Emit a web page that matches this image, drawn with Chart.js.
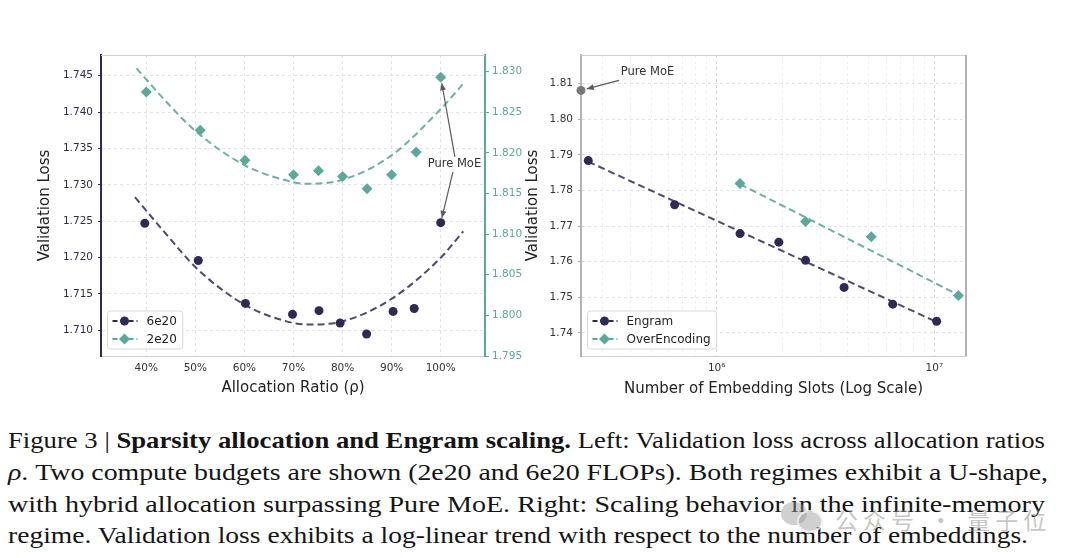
<!DOCTYPE html>
<html lang="en">
<head>
  <meta charset="UTF-8">
  <title>Sparsity allocation and Engram scaling</title>
  <script src="https://cdn.jsdelivr.net/npm/chart.js"></script>
  <style>
    body {
      margin: 0;
      background: #fff;
      width: 1080px;
      height: 558px;
      position: relative;
      overflow: hidden;
    }
    #leftChart { position: absolute; left: 0; top: 0; }
    #rightChart { position: absolute; left: 520px; top: 0; }
    .cap {
      position: absolute;
      left: 8px;
      font-family: "Liberation Serif", serif;
      font-size: 24px;
      line-height: 24px;
      color: #141414;
      white-space: nowrap;
      transform-origin: 0 0;
    }
    .wm {
      position: absolute;
      left: 835px;
      top: 502px;
      font-family: "Noto Sans CJK SC", sans-serif;
      font-size: 23px;
      letter-spacing: 5px;
      color: rgba(140, 140, 140, 0.5);
      white-space: nowrap;
    }
    .bubble {
      position: absolute;
      border-radius: 50%;
      background: rgba(150, 150, 150, 0.45);
    }
  </style>
</head>
<body>
  <canvas id="leftChart" width="540" height="410"></canvas>
  <canvas id="rightChart" width="560" height="410"></canvas>

  <div class="cap" style="top:428px" data-w="1037">Figure 3 | <b>Sparsity allocation and Engram scaling.</b> Left: Validation loss across allocation ratios</div>
  <div class="cap" style="top:460px" data-w="1040"><i>ρ</i>. Two compute budgets are shown (2e20 and 6e20 FLOPs). Both regimes exhibit a U-shape,</div>
  <div class="cap" style="top:492px" data-w="1037">with hybrid allocation surpassing Pure MoE. Right: Scaling behavior in the infinite-memory</div>
  <div class="cap" style="top:523px" data-w="1020">regime. Validation loss exhibits a log-linear trend with respect to the number of embeddings.</div>

  <div class="bubble" style="left:781px;top:502px;width:26px;height:23px"></div>
  <div class="bubble" style="left:797px;top:510px;width:22px;height:19px;border:2px solid rgba(255,255,255,0.7)"></div>
  <div class="wm">公众号 · 量子位</div>

  <script>
    // ---- left panel: allocation ratio sweep ----
    const ratio6e20 = [39.7, 50.6, 60.2, 69.8, 75.2, 79.5, 84.9, 90.3, 94.6, 100];
    const loss6e20 = [1.7247, 1.7196, 1.7137, 1.7122, 1.7127, 1.7110, 1.7095, 1.7126, 1.7130, 1.7248];
    const fitRatio6e20 = [37.7, 44.2, 50.3, 60.1, 70.0, 73.0, 79.8, 89.7, 99.9, 104.6];
    const fitLoss6e20 = [1.7283, 1.7231, 1.7185, 1.7135, 1.7110, 1.7108, 1.7112, 1.7142, 1.7199, 1.7236];

    const ratio2e20 = [40, 51, 60.1, 70, 75.1, 80, 85, 90, 95, 100];
    const loss2e20 = [1.8275, 1.8228, 1.8191, 1.8173, 1.8178, 1.8171, 1.8156, 1.8173, 1.8201, 1.8293];
    const fitRatio2e20 = [38, 45, 50, 60, 70, 72.5, 80, 90, 100, 105];
    const fitLoss2e20 = [1.8304, 1.8257, 1.8227, 1.8185, 1.8164, 1.8162, 1.8167, 1.8197, 1.8254, 1.8288];

    const ratioTicks = [40, 50, 60, 70, 80, 90, 100];
    const loss6e20Ticks = [1.710, 1.715, 1.720, 1.725, 1.730, 1.735, 1.740, 1.745];
    const loss2e20Ticks = [1.795, 1.800, 1.805, 1.810, 1.815, 1.820, 1.825, 1.830];

    // ---- right panel: embedding slots (log scale) ----
    const engramSlots = [2.57e5, 6.41e5, 1.28e6, 1.93e6, 2.56e6, 3.85e6, 6.44e6, 1.025e7];
    const engramLoss = [1.7884, 1.7760, 1.7679, 1.7655, 1.7604, 1.7528, 1.7481, 1.7433];
    const engramFitSlots = [2.57e5, 1.025e7];
    const engramFitLoss = [1.7881, 1.7431];

    const overEncSlots = [1.28e6, 2.56e6, 5.13e6, 1.29e7];
    const overEncLoss = [1.7820, 1.7713, 1.7670, 1.7505];
    const overEncFitSlots = [1.28e6, 1.29e7];
    const overEncFitLoss = [1.7818, 1.7507];

    const pureMoeSlots = [2.38e5];
    const pureMoeLoss = [1.8081];

    const slotTicks = [3e5, 4e5, 5e5, 6e5, 7e5, 8e5, 9e5, 1e6, 2e6, 3e6, 4e6, 5e6, 6e6, 7e6, 8e6, 9e6, 1e7];
    const slotTickLabels = { 1000000: '10⁶', 10000000: '10⁷' };
    const engramLossTicks = [1.74, 1.75, 1.76, 1.77, 1.78, 1.79, 1.80, 1.81];

    const NAVY = '#2e2a56';
    const TEAL = '#5ba99a';
    const GRID = '#dcdcdc';

    Chart.defaults.font.family = '"DejaVu Sans", sans-serif';
    Chart.defaults.color = '#333';

    const pts = (xs, ys) => xs.map((x, i) => ({ x: x, y: ys[i] }));
    const setTicks = list => scale => { scale.ticks = list.map(v => ({ value: v })); };

    // legend box inside the plot, dashed line + marker samples
    const boxLegend = {
      id: 'boxLegend',
      afterDraw(chart) {
        const { ctx, chartArea } = chart;
        const items = chart.data.datasets.filter(d => d.inLegend);
        ctx.save();
        ctx.font = '12px "DejaVu Sans"';
        const textW = Math.max(...items.map(d => ctx.measureText(d.label).width));
        const h = 38, w = 39 + textW + 6;
        const x0 = chartArea.left + 6.5, y0 = chartArea.bottom - 7 - h;
        ctx.fillStyle = 'rgba(255,255,255,0.85)';
        ctx.strokeStyle = '#d8d8d8';
        ctx.lineWidth = 1;
        ctx.beginPath();
        ctx.roundRect(x0, y0, w, h, 3);
        ctx.fill();
        ctx.stroke();
        items.forEach((d, i) => {
          const y = y0 + 10 + i * 18;
          ctx.strokeStyle = d.backgroundColor;
          ctx.lineWidth = 2;
          ctx.setLineDash([5, 3]);
          ctx.beginPath();
          ctx.moveTo(x0 + 5, y);
          ctx.lineTo(x0 + 30, y);
          ctx.stroke();
          ctx.setLineDash([]);
          ctx.fillStyle = d.backgroundColor;
          const cx = x0 + 17;
          ctx.beginPath();
          if (d.pointStyle === 'rectRot') {
            const r = 5.5;
            ctx.moveTo(cx, y - r); ctx.lineTo(cx + r, y); ctx.lineTo(cx, y + r); ctx.lineTo(cx - r, y);
            ctx.closePath();
          } else {
            ctx.arc(cx, y, 4.5, 0, Math.PI * 2);
          }
          ctx.fill();
          ctx.fillStyle = '#222';
          ctx.textBaseline = 'middle';
          ctx.fillText(d.label, x0 + 39, y + 0.5);
        });
        ctx.restore();
      }
    };

    // extra spines that the axes do not draw
    const frame = {
      id: 'frame',
      beforeDatasetsDraw(chart, args, opts) {
        const { ctx, chartArea: a } = chart;
        ctx.save();
        if (opts.top) {
          ctx.strokeStyle = opts.top; ctx.lineWidth = 1;
          ctx.beginPath(); ctx.moveTo(a.left, a.top + 0.5); ctx.lineTo(a.right, a.top + 0.5); ctx.stroke();
        }
        if (opts.right) {
          ctx.strokeStyle = opts.right; ctx.lineWidth = 1.5;
          ctx.beginPath(); ctx.moveTo(a.right, a.top); ctx.lineTo(a.right, a.bottom); ctx.stroke();
        }
        ctx.restore();
      }
    };

    // "Pure MoE" text with arrows pointing at data points
    const arrowNotes = {
      id: 'arrowNotes',
      afterDatasetsDraw(chart, args, opts) {
        if (!opts.notes) return;
        const { ctx, scales } = chart;
        opts.notes.forEach(n => {
          const tx = scales.x.getPixelForValue(n.x);
          const ty = scales[n.yAxis].getPixelForValue(n.y);
          ctx.save();
          ctx.font = '11.5px "DejaVu Sans"';
          ctx.fillStyle = '#333';
          ctx.textAlign = 'center';
          ctx.textBaseline = 'middle';
          ctx.fillText(n.text, tx, ty);
          n.arrows.forEach(a => {
            const el = chart.getDatasetMeta(a.dataset).data[a.index];
            const x0 = tx + a.dx, y0 = ty + a.dy;
            const ang = Math.atan2(el.y - y0, el.x - x0);
            const x1 = el.x - Math.cos(ang) * a.gap, y1 = el.y - Math.sin(ang) * a.gap;
            ctx.strokeStyle = '#5a5a5a';
            ctx.fillStyle = '#5a5a5a';
            ctx.lineWidth = 1.2;
            ctx.beginPath(); ctx.moveTo(x0, y0); ctx.lineTo(x1, y1); ctx.stroke();
            const L = 7, W = 3;
            const c = Math.cos(ang), s = Math.sin(ang);
            ctx.beginPath();
            ctx.moveTo(x1, y1);
            ctx.lineTo(x1 - L * c + W * s, y1 - L * s - W * c);
            ctx.lineTo(x1 - L * c - W * s, y1 - L * s + W * c);
            ctx.closePath();
            ctx.fill();
          });
          ctx.restore();
        });
      }
    };

    const tickFont = { size: 10.5 };
    const titleFont = { size: 15 };

    new Chart(document.getElementById('leftChart'), {
      type: 'scatter',
      data: {
        datasets: [
          { label: '6e20', data: pts(ratio6e20, loss6e20), yAxisID: 'y', inLegend: true,
            pointStyle: 'circle', pointRadius: 4.5, backgroundColor: NAVY, borderColor: NAVY, borderWidth: 0 },
          { label: '2e20', data: pts(ratio2e20, loss2e20), yAxisID: 'y2', inLegend: true,
            pointStyle: 'rectRot', pointRadius: 5.5, backgroundColor: TEAL, borderColor: TEAL, borderWidth: 0 },
          { label: '6e20 fit', data: pts(fitRatio6e20, fitLoss6e20), yAxisID: 'y', showLine: true,
            pointRadius: 0, borderColor: 'rgba(46,42,86,0.85)', borderWidth: 2, borderDash: [7, 4],
            cubicInterpolationMode: 'monotone' },
          { label: '2e20 fit', data: pts(fitRatio2e20, fitLoss2e20), yAxisID: 'y2', showLine: true,
            pointRadius: 0, borderColor: 'rgba(91,169,154,0.9)', borderWidth: 2, borderDash: [7, 4],
            cubicInterpolationMode: 'monotone' }
        ]
      },
      options: {
        responsive: false,
        animation: false,
        layout: { padding: { left: 32, top: 55, right: 0, bottom: 0 } },
        plugins: {
          legend: { display: false },
          tooltip: { enabled: false },
          frame: { top: '#cfcfcf' },
          arrowNotes: {
            notes: [{
              text: 'Pure MoE', x: 102.8, y: 1.73287, yAxis: 'y',
              arrows: [
                { dataset: 1, index: 9, dx: 0.5, dy: -7, gap: 6 },
                { dataset: 0, index: 9, dx: -1.5, dy: 8, gap: 5 }
              ]
            }]
          }
        },
        scales: {
          x: {
            type: 'linear', min: 30.77, max: 109.03,
            afterBuildTicks: setTicks(ratioTicks),
            afterFit: s => { s.height = 54; },
            ticks: { callback: v => v + '%', font: tickFont, color: '#333', padding: 6, autoSkip: false, maxRotation: 0 },
            grid: { color: GRID, lineWidth: 0.8, drawTicks: false },
            border: { color: '#cfcfcf', width: 1, dash: [3, 3] },
            title: { display: true, text: 'Allocation Ratio (ρ)', font: titleFont, color: '#222', padding: { top: 0, bottom: 13 } }
          },
          y: {
            type: 'linear', position: 'left', min: 1.70647, max: 1.74784,
            afterBuildTicks: setTicks(loss6e20Ticks),
            afterFit: s => { s.width = 69; },
            ticks: { callback: v => v.toFixed(3), font: tickFont, color: NAVY, padding: 5 },
            grid: { color: GRID, lineWidth: 0.8, tickLength: 3, tickColor: NAVY, tickWidth: 1 },
            border: { color: NAVY, width: 2, dash: [3, 3] },
            title: { display: true, text: 'Validation Loss', font: titleFont, color: '#222', padding: { top: 4, bottom: 4 } }
          },
          y2: {
            type: 'linear', position: 'right', min: 1.795, max: 1.83205,
            afterBuildTicks: setTicks(loss2e20Ticks),
            afterFit: s => { s.width = 55; },
            ticks: { callback: v => v.toFixed(3), font: tickFont, color: TEAL, padding: 3 },
            grid: { drawOnChartArea: false, tickLength: 4, tickColor: TEAL, tickWidth: 1 },
            border: { color: TEAL, width: 2 }
          }
        }
      },
      plugins: [boxLegend, frame, arrowNotes]
    });

    new Chart(document.getElementById('rightChart'), {
      type: 'scatter',
      data: {
        datasets: [
          { label: 'Engram', data: pts(engramSlots, engramLoss), inLegend: true,
            pointStyle: 'circle', pointRadius: 4.5, backgroundColor: NAVY, borderColor: NAVY, borderWidth: 0 },
          { label: 'OverEncoding', data: pts(overEncSlots, overEncLoss), inLegend: true,
            pointStyle: 'rectRot', pointRadius: 5.5, backgroundColor: TEAL, borderColor: TEAL, borderWidth: 0 },
          { label: 'Pure MoE', data: pts(pureMoeSlots, pureMoeLoss), clip: false,
            pointStyle: 'circle', pointRadius: 4.5, backgroundColor: '#777', borderColor: '#777', borderWidth: 0 },
          { label: 'Engram fit', data: pts(engramFitSlots, engramFitLoss), showLine: true,
            pointRadius: 0, borderColor: 'rgba(46,42,86,0.85)', borderWidth: 2, borderDash: [7, 4] },
          { label: 'OverEncoding fit', data: pts(overEncFitSlots, overEncFitLoss), showLine: true,
            pointRadius: 0, borderColor: 'rgba(91,169,154,0.9)', borderWidth: 2, borderDash: [7, 4] }
        ]
      },
      options: {
        responsive: false,
        animation: false,
        layout: { padding: { left: 0, top: 55, right: 114, bottom: 0 } },
        plugins: {
          legend: { display: false },
          tooltip: { enabled: false },
          frame: { top: '#cfcfcf', right: '#9a9a9a' },
          arrowNotes: {
            notes: [{
              text: 'Pure MoE', x: 4.81e5, y: 1.8133, yAxis: 'y',
              arrows: [{ dataset: 2, index: 0, dx: -28.5, dy: 8.5, gap: 6 }]
            }]
          }
        },
        scales: {
          x: {
            type: 'logarithmic', min: 2.38e5, max: 1.398e7,
            afterBuildTicks: setTicks(slotTicks),
            afterFit: s => { s.height = 54; },
            ticks: { callback: v => slotTickLabels[v] || '', font: tickFont, color: '#333', padding: 6, autoSkip: false, maxRotation: 0 },
            grid: {
              color: c => (c.tick && slotTickLabels[c.tick.value]) ? '#cfcfcf' : '#ececec',
              lineWidth: 0.8, drawTicks: false
            },
            border: { color: '#cfcfcf', width: 1, dash: [3, 3] },
            title: { display: true, text: 'Number of Embedding Slots (Log Scale)', font: titleFont, color: '#222', padding: { top: 0, bottom: 12 } }
          },
          y: {
            type: 'linear', position: 'left', min: 1.73354, max: 1.81805,
            afterBuildTicks: setTicks(engramLossTicks),
            afterFit: s => { s.width = 61; },
            ticks: { callback: v => v.toFixed(2), font: tickFont, color: '#333', padding: 5 },
            grid: { color: GRID, lineWidth: 0.8, tickLength: 3, tickColor: '#aaa', tickWidth: 1 },
            border: { color: '#b4b4b4', width: 2, dash: [3, 3] },
            title: { display: true, text: 'Validation Loss', font: titleFont, color: '#222', padding: { top: 4, bottom: 4 } }
          }
        }
      },
      plugins: [boxLegend, frame, arrowNotes]
    });

    // stretch each caption line to the width it has in the figure
    document.querySelectorAll('.cap').forEach(el => {
      const w = el.getBoundingClientRect().width;
      el.style.transform = 'scaleX(' + (el.dataset.w / w) + ')';
    });
  </script>
</body>
</html>
